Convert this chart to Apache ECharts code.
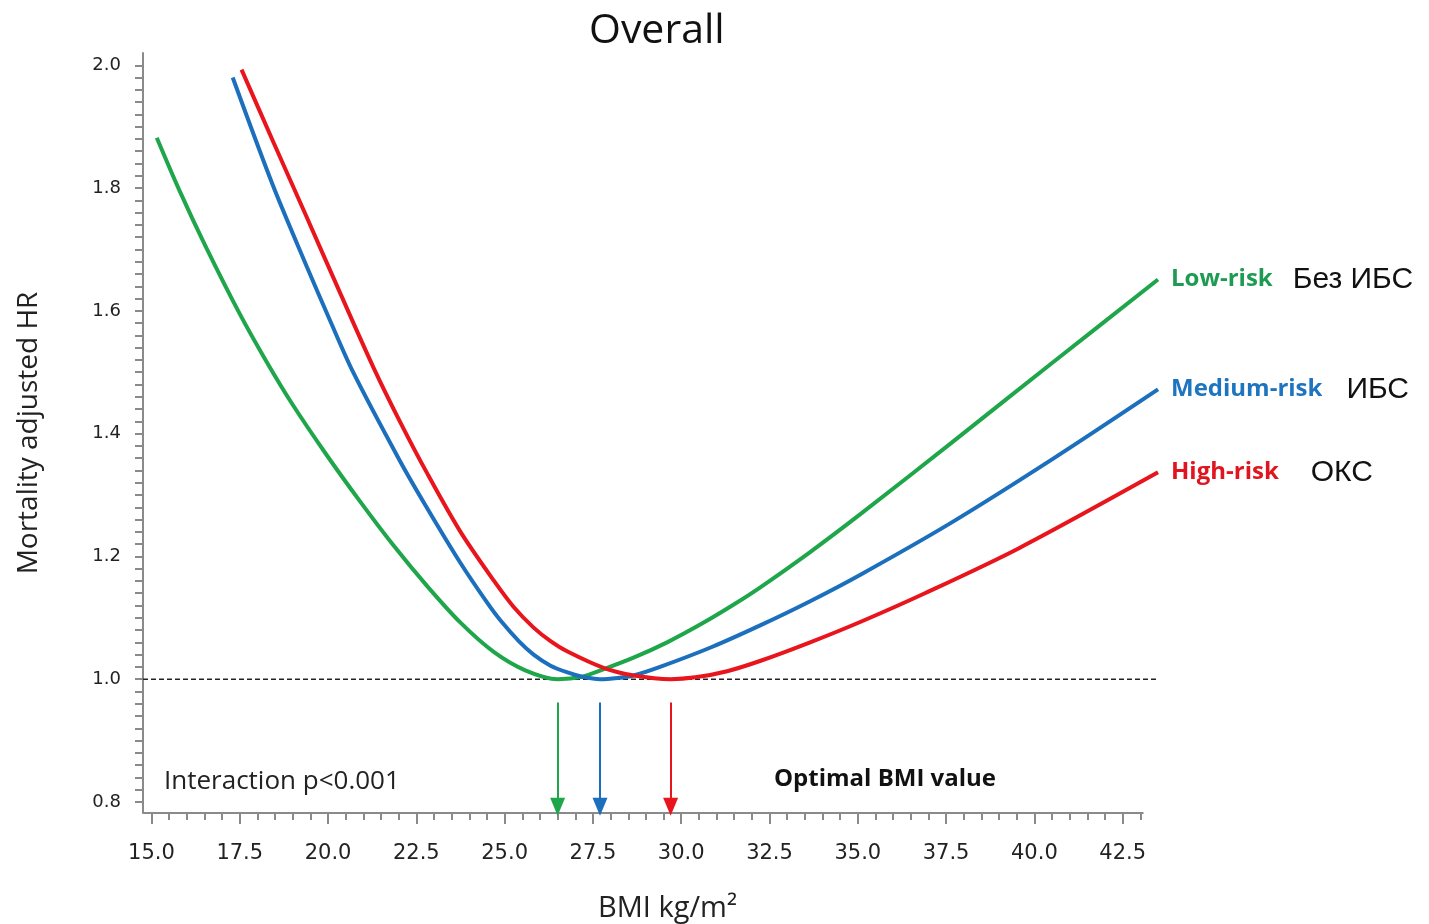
<!DOCTYPE html>
<html>
<head>
<meta charset="utf-8">
<script src="https://cdn.jsdelivr.net/npm/echarts@6/dist/echarts.min.js"></script>
<style>
  html, body { margin: 0; padding: 0; background: #ffffff; }
  #chart { width: 1429px; height: 924px; }
</style>
</head>
<body>
<div id="chart"></div>
<script>
// BMI (kg/m2) and mortality-adjusted hazard ratio for each risk group
const lowBmi = [15.15, 15.8, 16.55, 17.5, 18.25, 19.0, 19.95, 20.9, 21.85, 22.8, 23.75, 24.7, 25.6, 26.5, 27.2, 27.75, 28.65, 29.6, 30.6, 31.5, 32.25, 33.65, 35.1, 37.65, 40.5, 43.5];
const lowHr  = [1.882, 1.795, 1.703, 1.595, 1.518, 1.447, 1.366, 1.290, 1.218, 1.152, 1.092, 1.044, 1.014, 1.000, 1.004, 1.015, 1.035, 1.060, 1.091, 1.122, 1.150, 1.207, 1.270, 1.385, 1.515, 1.651];

const midBmi = [17.3, 18.44, 19.39, 20.05, 20.71, 22.04, 22.79, 23.74, 24.5, 24.89, 25.4, 25.82, 26.3, 26.78, 27.2, 27.7, 28.2, 28.65, 29.4, 30.85, 32.25, 33.65, 35.1, 37.65, 40.5, 43.5];
const midHr  = [1.980, 1.804, 1.673, 1.585, 1.500, 1.355, 1.280, 1.190, 1.125, 1.095, 1.062, 1.040, 1.022, 1.011, 1.004, 1.000, 1.002, 1.006, 1.020, 1.052, 1.088, 1.127, 1.171, 1.255, 1.358, 1.472];

const highBmi = [17.55, 18.45, 19.4, 20.35, 21.3, 22.05, 22.8, 23.75, 24.7, 25.25, 25.82, 26.3, 26.78, 27.82, 28.66, 29.7, 30.4, 31.3, 32.25, 33.65, 35.1, 36.9, 39.55, 43.5];
const highHr  = [1.993, 1.875, 1.752, 1.628, 1.506, 1.418, 1.336, 1.240, 1.160, 1.118, 1.084, 1.062, 1.045, 1.018, 1.006, 1.000, 1.003, 1.013, 1.030, 1.060, 1.094, 1.140, 1.213, 1.337];

// Optimal BMI (curve minimum) per group
const optimalBmi = [26.5, 27.7, 29.7];

const groupNames = ['Low-risk', 'Medium-risk', 'High-risk'];
const groupNotes = ['Без ИБС', 'ИБС', 'ОКС'];

// Reference hazard ratio
const refHr = 1.0;

// Axis ticks
const xTickLabels = [15.0, 17.5, 20.0, 22.5, 25.0, 27.5, 30.0, 32.5, 35.0, 37.5, 40.0, 42.5];
const yTickLabels = [0.8, 1.0, 1.2, 1.4, 1.6, 1.8, 2.0];

const xMinorTicks = [];
for (let i = 0; i <= 56; i++) xMinorTicks.push(15 + i * 0.5);
const yMinorTicks = [];
for (let i = 0; i <= 60; i++) yMinorTicks.push(Math.round((0.8 + i * 0.02) * 1000) / 1000);

// Plot extent: the curves run a little past the end of the drawn x axis line
const X_MIN = 14.76, X_MAX = 43.5, X_AXIS_END = 43.09;
const Y_MIN = 0.782, Y_MAX = 2.02;

const colors = ['#1fa64a', '#1b6fbd', '#e8151d'];
const labelColors = ['#1e9b52', '#1d74bf', '#e01520'];
const noteGaps = [20, 24, 32];

const pairs = (xs, ys) => xs.map((x, i) => [x, ys[i]]);
const curves = [pairs(lowBmi, lowHr), pairs(midBmi, midHr), pairs(highBmi, highHr)];

const chart = echarts.init(document.getElementById('chart'), null, { renderer: 'canvas' });

const axisGrey = '#8a8a8a';

const curveSeries = curves.map((data, i) => ({
  name: groupNames[i],
  type: 'line',
  data: data,
  smooth: 0.3,
  showSymbol: false,
  symbol: 'none',
  z: 5,
  lineStyle: { color: colors[i], width: 4 },
  endLabel: {
    show: true,
    distance: 13,
    formatter: () => '{a|' + groupNames[i] + '}{b|' + groupNotes[i] + '}',
    rich: {
      a: { fontFamily: 'Open Sans', fontWeight: 'bold', fontSize: 24, color: labelColors[i] },
      b: { fontFamily: 'Liberation Sans', fontSize: 30, color: '#111', padding: [0, 0, 0, noteGaps[i]] }
    }
  },
  markLine: {
    silent: true,
    symbol: ['none', 'triangle'],
    symbolSize: [15, 18],
    label: { show: false },
    lineStyle: { color: colors[i], width: 2, type: 'solid' },
    data: [[{ coord: [optimalBmi[i], 0.962] }, { coord: [optimalBmi[i], 0.792] }]]
  }
}));

const option = {
  animation: false,
  backgroundColor: '#ffffff',
  title: {
    text: 'Overall',
    left: 584,
    top: 6,
    textStyle: { fontFamily: 'Open Sans', fontSize: 41, fontWeight: 'normal', color: '#111' }
  },
  grid: { left: 143, right: 271, top: 53, bottom: 111, containLabel: false, outerBoundsMode: 'none' },
  xAxis: [
    {
      type: 'value',
      position: 'bottom',
      min: X_MIN,
      max: X_MAX,
      name: 'BMI kg/m²',
      nameLocation: 'middle',
      nameGap: 81,
      nameTextStyle: { fontFamily: 'Open Sans', fontSize: 29, color: '#222', padding: [0, 0, 0, 34] },
      axisLine: { show: false },
      axisTick: { show: true, inside: false, length: 7, customValues: xMinorTicks, lineStyle: { color: axisGrey, width: 2 } },
      axisLabel: {
        customValues: xTickLabels,
        margin: 30,
        fontFamily: 'DejaVu Sans',
        fontSize: 21,
        color: '#222',
        formatter: v => v.toFixed(1)
      },
      splitLine: { show: false }
    },
    {
      type: 'value',
      position: 'bottom',
      min: X_MIN,
      max: X_MAX,
      axisLine: { show: false },
      axisTick: { show: true, inside: false, length: 11, customValues: xTickLabels, lineStyle: { color: axisGrey, width: 2 } },
      axisLabel: { show: false },
      splitLine: { show: false }
    }
  ],
  yAxis: {
    type: 'value',
    min: Y_MIN,
    max: Y_MAX,
    name: 'Mortality adjusted HR',
    nameLocation: 'middle',
    nameGap: 100,
    nameTextStyle: { fontFamily: 'Open Sans', fontSize: 28, color: '#222' },
    axisLine: { show: true, lineStyle: { color: axisGrey, width: 2 } },
    axisTick: { show: true, inside: false, length: 8, customValues: yMinorTicks, lineStyle: { color: axisGrey, width: 2 } },
    axisLabel: {
      customValues: yTickLabels,
      margin: 22,
      fontFamily: 'DejaVu Sans',
      fontSize: 18,
      color: '#222',
      formatter: v => v.toFixed(1)
    },
    splitLine: { show: false }
  },
  series: [
    {
      // x axis baseline, ending where the tick marks end
      name: 'x-axis-line',
      type: 'line',
      data: [[X_MIN, Y_MIN], [X_AXIS_END, Y_MIN]],
      showSymbol: false,
      symbol: 'none',
      silent: true,
      z: 1,
      lineStyle: { color: axisGrey, width: 2 }
    },
    {
      name: 'reference',
      type: 'line',
      data: [[X_MIN, refHr], [X_MAX, refHr]],
      showSymbol: false,
      symbol: 'none',
      silent: true,
      z: 2,
      lineStyle: { color: '#222', width: 1.5, type: [5, 3] }
    },
    ...curveSeries
  ],
  graphic: [
    {
      type: 'text',
      left: 164,
      top: 769,
      style: { text: 'Interaction p<0.001', font: '26px "Open Sans"', fill: '#222' }
    },
    {
      type: 'text',
      left: 774,
      top: 767,
      style: { text: 'Optimal BMI value', font: 'bold 24px "Open Sans"', fill: '#111' }
    }
  ]
};

chart.setOption(option);
</script>
</body>
</html>
